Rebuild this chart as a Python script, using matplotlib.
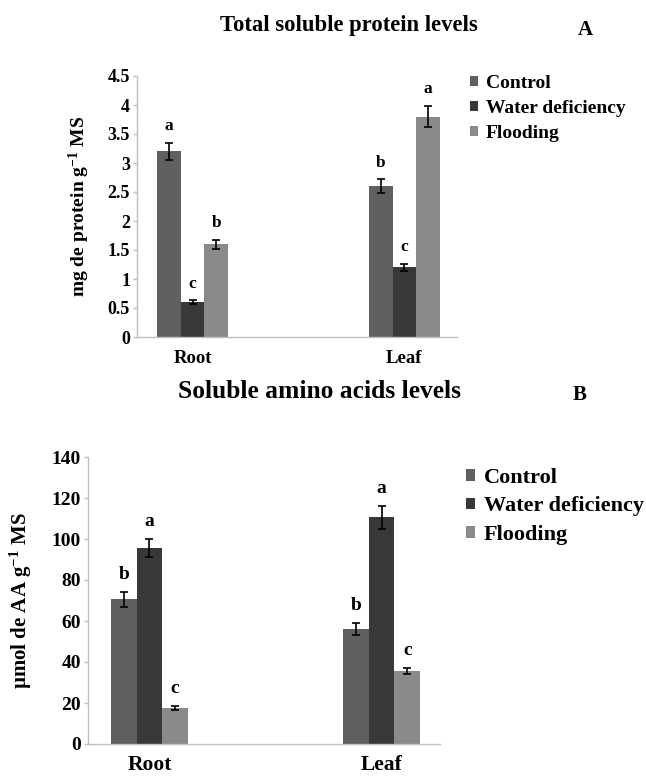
import matplotlib
matplotlib.use("Agg")
import matplotlib.pyplot as plt
import numpy as np

plt.rcParams['font.family'] = ['Liberation Serif', 'DejaVu Serif']
plt.rcParams['font.weight'] = 'bold'
plt.rcParams['mathtext.fontset'] = 'custom'
plt.rcParams['mathtext.rm'] = 'Liberation Serif:bold'
plt.rcParams['mathtext.bf'] = 'Liberation Serif:bold'
plt.rcParams['mathtext.it'] = 'Liberation Serif:bold'
plt.rcParams['mathtext.default'] = 'bf'

categories = ["Root", "Leaf"]
series = ["Control", "Water deficiency", "Flooding"]
colors = ["#606060", "#383838", "#8a8a8a"]

# Panel A: total soluble protein
protein_means = {"Control": [3.2, 2.6], "Water deficiency": [0.6, 1.2], "Flooding": [1.6, 3.8]}
protein_err = {"Control": [0.15, 0.12], "Water deficiency": [0.03, 0.06], "Flooding": [0.08, 0.18]}
protein_letters = {"Control": ["a", "b"], "Water deficiency": ["c", "c"], "Flooding": ["b", "a"]}
protein_ticks = [0, 0.5, 1, 1.5, 2, 2.5, 3, 3.5, 4, 4.5]
protein_ticklabels = ["0", "0.5", "1", "1.5", "2", "2.5", "3", "3.5", "4", "4.5"]

# Panel B: soluble amino acids
aa_means = {"Control": [70.5, 56], "Water deficiency": [95.5, 110.5], "Flooding": [17.5, 35.5]}
aa_err = {"Control": [3.5, 3], "Water deficiency": [4.5, 5.5], "Flooding": [1, 1.5]}
aa_letters = {"Control": ["b", "b"], "Water deficiency": ["a", "a"], "Flooding": ["c", "c"]}
aa_ticks = [0, 20, 40, 60, 80, 100, 120, 140]

W, H = 646, 776
fig = plt.figure(figsize=(W / 100, H / 100), dpi=100)

def px_rect(x0, y_top, x1, y_bot):
    return [x0 / W, 1 - y_bot / H, (x1 - x0) / W, (y_bot - y_top) / H]

axA = fig.add_axes(px_rect(137, 76, 457, 337))
axB = fig.add_axes(px_rect(88, 457, 440, 744))

def draw(ax, means, errs, letters, ylim, xlim, bw, tick_fs, ann_fs, cat_fs, cat_pad, ylabel, ylab_x, ylab_fs, ann_off):
    x = np.arange(len(categories))
    handles = []
    for i, s in enumerate(series):
        xs = x + (i - 1) * bw
        b = ax.bar(xs, means[s], width=bw, color=colors[i], label=s, zorder=2)
        handles.append(b)
        ax.errorbar(xs, means[s], yerr=errs[s], fmt='none', ecolor='black',
                    elinewidth=1.2, capsize=3, capthick=1.2, zorder=3)
        for xi, m, e, l in zip(xs, means[s], errs[s], letters[s]):
            ax.annotate(l, (xi, m + e), xytext=(0, ann_off), textcoords='offset points',
                        ha='center', va='center', fontsize=ann_fs, fontweight='bold')
    ax.set_xlim(*xlim)
    ax.set_ylim(*ylim)
    for sp in ['top', 'right']:
        ax.spines[sp].set_visible(False)
    for sp in ['left', 'bottom']:
        ax.spines[sp].set_color('#c0c0c0')
        ax.spines[sp].set_linewidth(1.0)
    ax.tick_params(axis='y', direction='out', length=3, width=1, color='#c0c0c0',
                   labelsize=tick_fs, pad=2)
    ax.set_xticks(x)
    ax.set_xticklabels(categories, fontsize=cat_fs, fontweight='bold')
    ax.tick_params(axis='x', length=0, pad=cat_pad)
    ax.set_ylabel(ylabel, fontsize=ylab_fs, fontweight='bold')
    ax.yaxis.set_label_coords(ylab_x, 0.5)
    return handles

hA = draw(axA, protein_means, protein_err, protein_letters, (0, 4.5), (-0.262, 1.248), 0.1116,
          13, 12.5, 13.5, 9.5, r"mg de protein g$^{-1}$ MS", -0.14, 14, 12)
axA.set_yticks(protein_ticks)
axA.set_yticklabels(protein_ticklabels)

hB = draw(axB, aa_means, aa_err, aa_letters, (0, 140), (-0.265, 1.252), 0.1106,
          14, 14, 15.5, 8, r"µmol de AA g$^{-1}$ MS", -0.153, 15, 12.5)
axB.set_yticks(aa_ticks)

fig.legend(hA, series, loc='upper left', bbox_to_anchor=(470 / W, 1 - 75 / H),
           frameon=False, handlelength=0.4, handleheight=0.4,
           handletextpad=0.4, labelspacing=0.42, borderpad=0, borderaxespad=0,
           prop={'weight': 'bold', 'size': 14})
fig.legend(hB, series, loc='upper left', bbox_to_anchor=(466 / W, 1 - 468 / H),
           frameon=False, handlelength=0.4, handleheight=0.4,
           handletextpad=0.4, labelspacing=0.38, borderpad=0, borderaxespad=0,
           prop={'weight': 'bold', 'size': 16})

fig.text(349 / W, 1 - 25 / H, "Total soluble protein levels", ha='center', va='center',
         fontsize=16.3, fontweight='bold')
fig.text(585 / W, 1 - 30 / H, "A", ha='center', va='center', fontsize=15, fontweight='bold')
fig.text(320 / W, 1 - 391 / H, "Soluble amino acids levels", ha='center', va='center',
         fontsize=18.4, fontweight='bold')
fig.text(580 / W, 1 - 395 / H, "B", ha='center', va='center', fontsize=15, fontweight='bold')

fig.savefig("out.png", dpi=100)
